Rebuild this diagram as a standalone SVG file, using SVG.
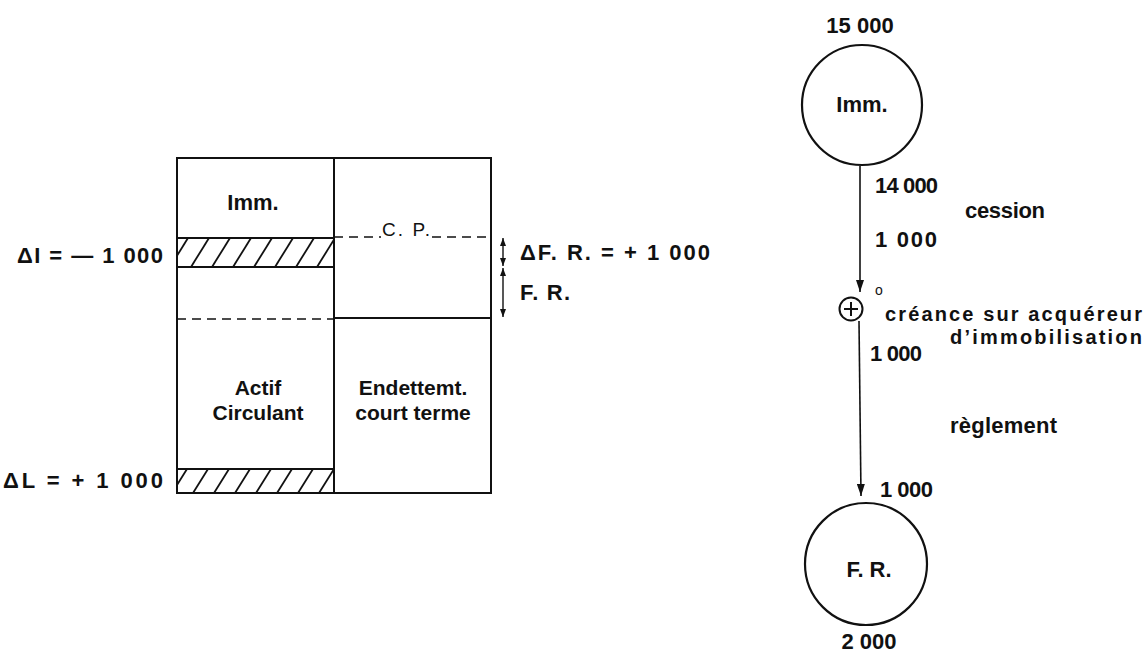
<svg xmlns="http://www.w3.org/2000/svg" width="1145" height="654" viewBox="0 0 1145 654">
<style>
text{font-family:"Liberation Sans",Arial,sans-serif;font-size:22px;font-weight:bold;fill:#111}
.box{fill:none;stroke:#111;stroke-width:2}
.dash{fill:none;stroke:#111;stroke-width:1.6;stroke-dasharray:9 6}
.hatch{stroke:#111;stroke-width:1.8}
.node{fill:none;stroke:#111;stroke-width:2.2}
.conn{fill:none;stroke:#111;stroke-width:1.6}
.dbl{fill:none;stroke:#111;stroke-width:1.4}
.mid{text-anchor:middle}
</style>
<defs>
<marker id="arr" viewBox="0 0 12 8" refX="12" refY="4" markerWidth="12" markerHeight="8" markerUnits="userSpaceOnUse" orient="auto">
<path d="M0,0 L12,4 L0,8 z" fill="#111"/>
</marker>
<marker id="sarr" viewBox="0 0 8 6" refX="8" refY="3" markerWidth="8" markerHeight="6" markerUnits="userSpaceOnUse" orient="auto-start-reverse">
<path d="M0,0 L8,3 L0,6 z" fill="#111"/>
</marker>
<clipPath id="c1"><rect x="177" y="238" width="157" height="29"/></clipPath>
<clipPath id="c2"><rect x="177" y="469" width="157" height="24"/></clipPath>
</defs>

<g id="bilan">
<rect class="box" x="177" y="158" width="314" height="335"/>
<line class="box" x1="334" y1="158" x2="334" y2="493"/>
<line class="box" x1="334" y1="318" x2="491" y2="318"/>
<line class="dash" x1="177" y1="319" x2="334" y2="319"/>
<line class="dash" x1="334" y1="237" x2="381" y2="237"/>
<line class="dash" x1="432" y1="237" x2="491" y2="237"/>
<text class="mid" x="253" y="210">Imm.</text>
<text x="382" y="236" style="font-size:19px;font-weight:normal" textLength="48" lengthAdjust="spacing">C. P.</text>
<text class="mid" x="258" y="395" style="font-size:21px">Actif</text>
<text class="mid" x="258" y="420" style="font-size:21px">Circulant</text>
<text class="mid" x="413" y="395" style="font-size:21px">Endettemt.</text>
<text class="mid" x="413" y="420" style="font-size:21px">court terme</text>
</g>

<g id="hatch-imm">
<rect class="box" x="177" y="238" width="157" height="29"/>
<g clip-path="url(#c1)" class="hatch">
<line x1="170" y1="267" x2="188" y2="238"/>
<line x1="191" y1="267" x2="209" y2="238"/>
<line x1="212" y1="267" x2="230" y2="238"/>
<line x1="233" y1="267" x2="251" y2="238"/>
<line x1="254" y1="267" x2="272" y2="238"/>
<line x1="275" y1="267" x2="293" y2="238"/>
<line x1="296" y1="267" x2="314" y2="238"/>
<line x1="317" y1="267" x2="335" y2="238"/>
<line x1="338" y1="267" x2="356" y2="238"/>
</g>
</g>

<g id="hatch-liq">
<rect class="box" x="177" y="469" width="157" height="24"/>
<g clip-path="url(#c2)" class="hatch">
<line x1="172" y1="493" x2="187" y2="469"/>
<line x1="193" y1="493" x2="208" y2="469"/>
<line x1="214" y1="493" x2="229" y2="469"/>
<line x1="235" y1="493" x2="250" y2="469"/>
<line x1="256" y1="493" x2="271" y2="469"/>
<line x1="277" y1="493" x2="292" y2="469"/>
<line x1="298" y1="493" x2="313" y2="469"/>
<line x1="319" y1="493" x2="334" y2="469"/>
<line x1="340" y1="493" x2="355" y2="469"/>
</g>
</g>

<g id="labels-left">
<text x="17" y="263" textLength="146" lengthAdjust="spacing">ΔI = — 1 000</text>
<text x="3" y="488" textLength="160" lengthAdjust="spacing">ΔL = + 1 000</text>
<text x="520" y="260" textLength="190" lengthAdjust="spacing">ΔF.  R. = + 1 000</text>
<text x="520" y="300" textLength="50" lengthAdjust="spacing">F.  R.</text>
</g>

<g id="fr-arrows">
<line class="dbl" x1="503" y1="238" x2="503" y2="266" marker-start="url(#sarr)" marker-end="url(#sarr)"/>
<line class="dbl" x1="503" y1="268" x2="503" y2="317" marker-start="url(#sarr)" marker-end="url(#sarr)"/>
</g>

<g id="node-imm">
<circle class="node" cx="862" cy="105" r="60"/>
<text class="mid" x="862" y="112">Imm.</text>
<text class="mid" x="860" y="33">15 000</text>
</g>

<g id="node-creance">
<circle class="node" cx="851" cy="309" r="11.5" style="stroke-width:2"/>
<line class="conn" x1="844" y1="309" x2="858" y2="309" style="stroke-width:2"/>
<line class="conn" x1="851" y1="302" x2="851" y2="316" style="stroke-width:2"/>
<text x="875" y="295" style="font-size:14px;font-weight:normal">o</text>
<text x="885" y="321" style="font-size:20px" textLength="257" lengthAdjust="spacing">créance sur acquéreur</text>
<text x="950" y="344" style="font-size:20px" textLength="192" lengthAdjust="spacing">d’immobilisation</text>
</g>

<g id="node-fr">
<circle class="node" cx="866" cy="564" r="61"/>
<text class="mid" x="869" y="577">F.  R.</text>
<text class="mid" x="869" y="649">2 000</text>
</g>

<g id="connectors">
<line class="conn" x1="860" y1="166" x2="860" y2="292" marker-end="url(#arr)"/>
<line class="conn" x1="859" y1="321" x2="861" y2="496" marker-end="url(#arr)"/>
</g>

<g id="connector-labels">
<text x="875" y="193" textLength="63" lengthAdjust="spacing">14 000</text>
<text x="965" y="218" textLength="80" lengthAdjust="spacing">cession</text>
<text x="875" y="247" textLength="62" lengthAdjust="spacing">1 000</text>
<text x="870" y="361" textLength="52" lengthAdjust="spacing">1 000</text>
<text x="950" y="433" textLength="107" lengthAdjust="spacing">règlement</text>
<text x="880" y="497" textLength="53" lengthAdjust="spacing">1 000</text>
</g>
</svg>
